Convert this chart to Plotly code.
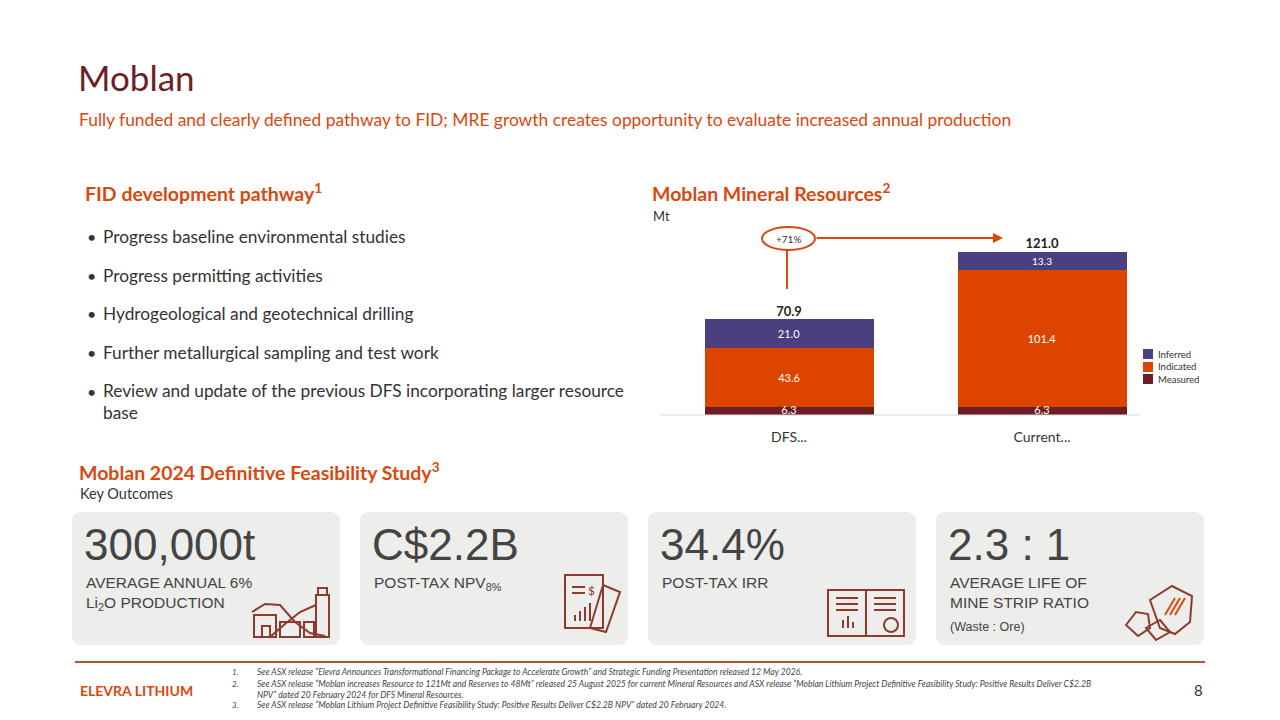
import plotly.graph_objects as go

categories = ["DFS...", "Current..."]
measured = [6.3, 6.3]
indicated = [43.6, 101.4]
inferred = [21.0, 13.3]
totals = [70.9, 121.0]
growth_label = "+71%"

OFF = 8
W, H = 1280 - 2 * OFF, 720 - 2 * OFF
def px(x): return (x - OFF) / W
def py(y): return 1 - (y - OFF) / H

ORANGE = "#D9480F"
MAROON = "#6E1E2B"
F = "Lato"
series = [("Measured", measured, "#6B1E23"), ("Indicated", indicated, "#DD4400"), ("Inferred", inferred, "#4B3F7F")]

fig = go.Figure()
for name, vals, col in series:
    fig.add_bar(x=categories, y=vals, name=name, marker=dict(color=col, line=dict(width=0)),
                width=0.67, text=[f"{v:.1f}" for v in vals] if name != "Measured" else None,
                textposition="inside", insidetextanchor="middle",
                textfont=dict(color="white", size=11, family=F), showlegend=False)
fig.add_scatter(x=categories, y=[v / 2 for v in measured], mode="text", text=[f"{v:.1f}" for v in measured],
                textfont=dict(size=11, color="white", family=F), showlegend=False, cliponaxis=False)
fig.add_scatter(x=categories, y=totals, mode="text", text=[f"<b>{v:.1f}</b>" for v in totals],
                textposition="top center", textfont=dict(size=13, color="#222", family=F),
                showlegend=False, cliponaxis=False)

fig.update_layout(
    width=W, height=H, margin=dict(l=0, r=0, t=0, b=0), paper_bgcolor="white", plot_bgcolor="white",
    barmode="stack", bargap=0, showlegend=False,
    xaxis=dict(domain=[px(662.5), px(1168.5)], range=[-0.5, 1.5], showgrid=False, showline=False,
               ticks="", ticklabelstandoff=12, tickfont=dict(size=14, color="#333", family=F), fixedrange=True),
    yaxis=dict(domain=[py(415), py(226)], range=[0, 140], visible=False, fixedrange=True),
    font=dict(family=F),
)

shapes = []
def rrect(x0, y0, x1, y1, r, fill):
    rx, ry = r / W, r / H
    X0, X1, Y0, Y1 = px(x0), px(x1), py(y1), py(y0)
    p = (f"M {X0+rx},{Y0} L {X1-rx},{Y0} Q {X1},{Y0} {X1},{Y0+ry} L {X1},{Y1-ry} Q {X1},{Y1} {X1-rx},{Y1} "
         f"L {X0+rx},{Y1} Q {X0},{Y1} {X0},{Y1-ry} L {X0},{Y0+ry} Q {X0},{Y0} {X0+rx},{Y0} Z")
    shapes.append(dict(type="path", xref="paper", yref="paper", path=p, fillcolor=fill, line=dict(width=0), layer="below"))

def line(x0, y0, x1, y1, col, w=2):
    shapes.append(dict(type="line", xref="paper", yref="paper", x0=px(x0), x1=px(x1), y0=py(y0), y1=py(y1), line=dict(color=col, width=w)))

def rect(x0, y0, x1, y1, col, w=2, fill="rgba(0,0,0,0)"):
    shapes.append(dict(type="rect", xref="paper", yref="paper", x0=px(x0), x1=px(x1), y0=py(y1), y1=py(y0),
                       line=dict(color=col, width=w), fillcolor=fill))

def poly(pts, col, w=2, fill="rgba(0,0,0,0)", close=True):
    p = "M " + " L ".join(f"{px(x)},{py(y)}" for x, y in pts) + (" Z" if close else "")
    shapes.append(dict(type="path", xref="paper", yref="paper", path=p, line=dict(color=col, width=w), fillcolor=fill))

line(660, 415, 1140, 415, "#D9D9D9", 1)
shapes.append(dict(type="circle", xref="paper", yref="paper", x0=px(762), x1=px(815), y0=py(250), y1=py(227), line=dict(color=ORANGE, width=2)))
line(787, 250, 787, 289, ORANGE)
line(75, 662, 1205, 662, "#B5532C", 2)
cards = [72, 360, 648, 936]
for cx in cards:
    rrect(cx, 512, cx + 268, 645, 10, "#EDEDEB")

for (name, vals, col), y in zip(series, [379, 367, 354]):
    rect(1143, y - 5, 1153, y + 5, col, 0, col)

ann = []
def t(x, y, s, size, color="#333", anchor="left", family=F, yanchor="middle"):
    ann.append(dict(x=px(x), y=py(y), xref="paper", yref="paper", text=s, showarrow=False,
                    xanchor=anchor, yanchor=yanchor, font=dict(size=size, color=color, family=family), align="left"))

for (name, vals, col), y in zip(series, [379, 367, 354]):
    t(1156, y, name, 9.5, "#333")

t(76, 77, "Moblan", 35, MAROON)
t(77, 119, "Fully funded and clearly defined pathway to FID; MRE growth creates opportunity to evaluate increased annual production", 17.4, ORANGE)
t(83, 193, "<b>FID development pathway<sup>1</sup></b>", 19.5, ORANGE)
bullets = [(236, "Progress baseline environmental studies"), (275, "Progress permitting activities"),
           (313, "Hydrogeological and geotechnical drilling"), (352, "Further metallurgical sampling and test work")]
for y, s in bullets:
    t(85, y, "•", 16, "#333")
    t(101, y, s, 17.3, "#333")
t(85, 391, "•", 16, "#333")
t(101, 401, "Review and update of the previous DFS incorporating larger resource<br>base", 17.3, "#333")
t(650, 193, "<b>Moblan Mineral Resources<sup>2</sup></b>", 19.5, ORANGE)
t(651, 216, "Mt", 13, "#333")
t(788, 239, growth_label, 10, "#333", anchor="center")
ann.append(dict(x=px(1003), y=py(238), ax=-188, ay=0, xref="paper", yref="paper", axref="pixel", ayref="pixel",
                showarrow=True, arrowhead=2, arrowsize=1, arrowwidth=2, arrowcolor=ORANGE, text=""))
t(77, 471, "<b>Moblan 2024 Definitive Feasibility Study<sup>3</sup></b>", 19.5, ORANGE)
t(78, 493, "Key Outcomes", 14.5, "#333")

AR = "Liberation Sans"
cardtxt = [
    ("300,000t", "AVERAGE ANNUAL 6%<br>Li<sub>2</sub>O PRODUCTION"),
    ("C$2.2B", "POST-TAX NPV<sub>8%</sub>"),
    ("34.4%", "POST-TAX IRR"),
    ("2.3 : 1", "AVERAGE LIFE OF<br>MINE STRIP RATIO"),
]
for cx, (big, small) in zip(cards, cardtxt):
    t(cx + 10, 544, big, 44, "#444", family=AR)
    t(cx + 12, 572, small, 15.5, "#444", family=AR, yanchor="top")
t(948, 627, "(Waste : Ore)", 12.5, "#444", family=AR)

IC = "#8E3A2E"
rect(254, 615, 276, 637, IC); rect(262, 626, 270, 637, IC)
rect(280, 622, 300, 637, IC)
rect(316, 595, 329, 637, IC); rect(318, 588, 327, 595, IC)
rect(304, 622, 314, 637, IC)
poly([(252, 612), (265, 604), (280, 605), (295, 622), (310, 633), (325, 636)], IC, 2, close=False)
poly([(270, 637), (285, 624), (300, 612), (316, 605)], IC, 2, close=False)
poly([(565, 575), (603, 575), (603, 628), (565, 628)], IC)
poly([(603, 585), (620, 592), (606, 632), (590, 628)], IC)
line(572, 587, 585, 587, IC); line(572, 593, 585, 593, IC)
t(591, 590, "$", 12, IC, anchor="center")
for i, hgt in enumerate([6, 10, 14, 18]):
    line(575 + i * 5, 621, 575 + i * 5, 621 - hgt, IC)
poly([(828, 590), (866, 590), (866, 636), (828, 636)], IC)
poly([(866, 590), (904, 590), (904, 636), (866, 636)], IC)
for y in [598, 604, 610]:
    line(836, y, 858, y, IC); line(874, y, 896, y, IC)
for i, hgt in enumerate([8, 12, 6]):
    line(843 + i * 5, 628, 843 + i * 5, 628 - hgt, IC)
shapes.append(dict(type="circle", xref="paper", yref="paper", x0=px(884), x1=px(898), y0=py(632), y1=py(618), line=dict(color=IC, width=2)))
poly([(1150, 600), (1172, 586), (1192, 596), (1190, 622), (1175, 634), (1160, 628)], IC)
poly([(1126, 625), (1136, 612), (1148, 614), (1150, 628), (1138, 636)], IC)
poly([(1146, 628), (1160, 620), (1170, 632), (1156, 640)], IC)
for i in range(3):
    line(1165 + i * 5, 615, 1175 + i * 5, 598, ORANGE)

t(78, 690, "<b>ELEVRA LITHIUM</b>", 14, ORANGE)
notes = [
    (672, "1.", "See ASX release “Elevra Announces Transformational Financing Package to Accelerate Growth” and Strategic Funding Presentation released 12 May 2026."),
    (684, "2.", "See ASX release “Moblan increases Resource to 121Mt and Reserves to 48Mt” released 25 August 2025 for current Mineral Resources and ASX release “Moblan Lithium Project Definitive Feasibility Study: Positive Results Deliver C$2.2B"),
    (695, "", "NPV” dated 20 February 2024 for DFS Mineral Resources."),
    (705, "3.", "See ASX release “Moblan Lithium Project Definitive Feasibility Study: Positive Results Deliver C$2.2B NPV” dated 20 February 2024."),
]
for y, n, s in notes:
    if n:
        t(230, y, f"<i>{n}</i>", 8, "#444")
    t(255, y, f"<i>{s}</i>", 8.6, "#444")
t(1205, 690, "8", 15, "#333", anchor="right")

fig.update_layout(shapes=shapes, annotations=ann)
fig.write_html("out.html")
